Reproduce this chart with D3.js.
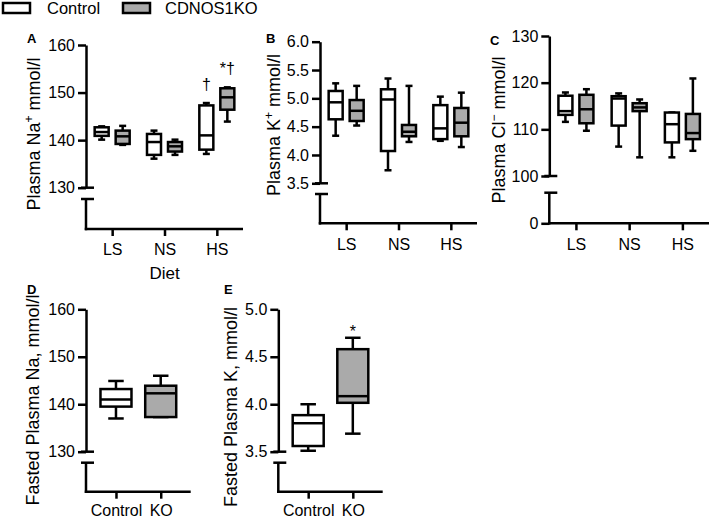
<!DOCTYPE html>
<html><head><meta charset="utf-8">
<script src="https://cdn.jsdelivr.net/npm/d3@7"></script>
<style>
body{margin:0;background:#fff;}
text{font-family:"Liberation Sans",Arial,Helvetica,sans-serif;}
</style></head>
<body><svg id="c" width="709" height="519"></svg>
<script>
// ---------- DATA ----------
const seriesNames = ["Control", "CDNOS1KO"];
const dietGroups = ["LS", "NS", "HS"];
const fastedGroups = ["Control", "KO"];

// five-number summaries [min, q1, median, q3, max]
const naControl = [[140.1,140.9,141.7,142.7,142.9],[136.1,136.9,139.6,141.3,142.0],[137.1,138.0,141.0,147.3,147.8]];
const naKO      = [[139.0,139.2,140.8,142.0,143.0],[136.9,137.6,138.7,139.6,140.1],[143.9,146.4,149.0,150.9,151.1]];
const kControl  = [[4.34,4.63,4.93,5.13,5.265],[3.73,4.07,4.98,5.16,5.35],[4.25,4.28,4.47,4.88,5.03]];
const kKO       = [[4.52,4.60,4.78,4.97,5.22],[4.23,4.33,4.41,4.53,5.22],[4.14,4.33,4.57,4.83,5.10]];
const clControl = [[111.6,113.1,113.9,117.2,117.9],[106.3,110.8,116.6,117.1,117.7],[104.0,107.2,111.1,113.6,113.6]];
const clKO      = [[109.7,111.3,114.3,117.4,118.6],[104.0,113.9,114.7,115.6,116.4],[105.4,107.9,109.2,113.3,120.9]];
const fastedNa  = [[137.0,139.5,141.0,143.2,144.9],[137.3,137.3,142.3,143.9,146.0]];
const fastedK   = [[3.51,3.56,3.80,3.885,4.0],[3.69,4.015,4.085,4.58,4.70]];

const naTicks = [130,140,150,160];
const kTicks = [3.5,4.0,4.5,5.0,5.5,6.0];
const clTicks = [100,110,120,130];
const fkTicks = [3.5,4.0,4.5,5.0];

const naMarks = [{group:"HS", series:0, text:"†"}, {group:"HS", series:1, text:"*†"}];
const fkMarks = [{group:"KO", series:0, text:"*"}];

// ---------- DRAW ----------
const svg = d3.select("#c");
const fills = ["#ffffff", "#aaaaaa"];
const LW = 2.5;

function drawPanel(p){
  const g = svg.append("g");
  const y = d3.scaleLinear().domain(p.yDomain).range(p.yRange);
  const x = d3.scalePoint().domain(p.groups).range(p.xRange).padding(p.xPad);
  const offs = p.offsets || [0];

  g.append("g").attr("transform",`translate(${p.xRange[0]},0)`)
    .call(d3.axisLeft(y).tickValues(p.ticks).tickFormat(p.fmt).tickSize(8).tickSizeOuter(0).tickPadding(3));
  const ax = p.xRange[0];
  g.append("line").attr("x1",ax).attr("x2",ax).attr("y1",p.breakY).attr("y2",p.axisY+LW/2);
  g.append("line").attr("x1",ax-5).attr("x2",ax+8).attr("y1",p.yRange[0]).attr("y2",p.yRange[0]);
  g.append("line").attr("x1",ax-5).attr("x2",ax+8).attr("y1",p.breakY).attr("y2",p.breakY);
  if(p.zeroTick){
    const y0 = d3.scaleLinear().domain([0,1]).range([p.axisY, p.breakY]);
    g.append("g").attr("transform",`translate(${ax},0)`)
      .call(d3.axisLeft(y0).tickValues([0]).tickFormat(d3.format("d")).tickSize(8).tickSizeOuter(0).tickPadding(3))
      .select(".domain").remove();
  }
  const xa = g.append("g").attr("transform",`translate(0,${p.axisY})`)
    .call(d3.axisBottom(x).tickSize(7).tickSizeOuter(0).tickPadding(p.xPadText||8));
  xa.select(".domain").attr("d",`M${p.xRange[0]-LW/2},0H${p.xEnd}`);

  g.selectAll(".domain, .tick line, line").attr("stroke","#000").attr("stroke-width",LW);
  g.selectAll(".tick text").attr("font-size",16).attr("fill","#000")
    .attr("font-family",'"Liberation Sans",Arial,sans-serif');

  const bw = p.boxW, cw = p.boxW*0.5;
  p.series.forEach((ser, si)=>{
    ser.forEach((d, gi)=>{
      const cx = x(p.groups[gi]) + offs[si];
      const b = g.append("g");
      b.append("line").attr("x1",cx).attr("x2",cx).attr("y1",y(d[4])).attr("y2",y(d[0]));
      b.append("line").attr("x1",cx-cw/2).attr("x2",cx+cw/2).attr("y1",y(d[4])).attr("y2",y(d[4]));
      b.append("line").attr("x1",cx-cw/2).attr("x2",cx+cw/2).attr("y1",y(d[0])).attr("y2",y(d[0]));
      b.append("rect").attr("x",cx-bw/2).attr("width",bw).attr("y",y(d[3])).attr("height",y(d[1])-y(d[3]))
        .attr("fill", p.fillFn(si, gi));
      b.append("line").attr("x1",cx-bw/2).attr("x2",cx+bw/2).attr("y1",y(d[2])).attr("y2",y(d[2]));
      b.selectAll("line, rect").attr("stroke","#000").attr("stroke-width",LW);
    });
  });

  (p.marks||[]).forEach(m=>{
    const gi = p.groups.indexOf(m.group);
    const si = m.series;
    const cx = x(m.group) + offs[si];
    const top = p.series[si][gi][4];
    g.append("text").attr("x",cx).attr("y",y(top)-p.markGap).attr("text-anchor","middle")
      .attr("font-size",16).text(m.text);
  });

  const yl = g.append("text").attr("transform",`translate(${p.labelX},${p.labelY}) rotate(-90)`)
    .attr("text-anchor","middle").attr("dy","0.35em").attr("font-size",p.labelSize||18);
  p.label.forEach(s=>{
    const t = yl.append("tspan").text(s.t);
    if(s.sup){ t.attr("font-size",12).attr("dy",-7); }
    if(s.after){ t.attr("dy",7); }
  });
  g.append("text").attr("x",p.letter[1]).attr("y",p.letter[2]).attr("font-size",13)
    .attr("font-weight","bold").text(p.letter[0]);
  if(p.xTitle){
    g.append("text").attr("x",x(p.groups[1])).attr("y",p.axisY+50).attr("text-anchor","middle")
      .attr("font-size",17).text(p.xTitle);
  }
}

const fillSeries = (si,gi)=>fills[si];
const fillFasted = (si,gi)=>fills[gi];

drawPanel({yDomain:[130,160], yRange:[187.7,45], ticks:naTicks, fmt:d3.format("d"),
  breakY:199, axisY:229, xRange:[86,243], xEnd:243, xPad:0.5, groups:dietGroups,
  series:[naControl,naKO], offsets:[-10.5,10.5], boxW:14, fillFn:fillSeries,
  marks:naMarks, markGap:13,
  label:[{t:"Plasma Na"},{t:"+",sup:true},{t:" mmol/l",after:true}], labelX:34, labelY:134,
  letter:["A",27,43], xTitle:"Diet"});

drawPanel({yDomain:[3.5,6.0], yRange:[183.3,41.7], ticks:kTicks, fmt:d3.format(".1f"),
  breakY:194, axisY:223.3, xRange:[320,477], xEnd:477, xPad:0.5, groups:dietGroups,
  series:[kControl,kKO], offsets:[-10.5,10.5], boxW:14, fillFn:fillSeries,
  label:[{t:"Plasma K"},{t:"+",sup:true},{t:" mmol/l",after:true}], labelX:274, labelY:125,
  letter:["B",266,43]});

drawPanel({yDomain:[100,130], yRange:[176,36], ticks:clTicks, fmt:d3.format("d"),
  breakY:192.7, axisY:223.3, xRange:[549.3,709], xEnd:709, xPad:0.5, groups:dietGroups,
  series:[clControl,clKO], offsets:[-10.5,10.5], boxW:14, fillFn:fillSeries, zeroTick:true,
  label:[{t:"Plasma Cl"},{t:"−",sup:true},{t:" mmol/l",after:true}], labelX:499, labelY:130,
  letter:["C",490,45]});

drawPanel({yDomain:[130,160], yRange:[451.7,309.3], ticks:naTicks, fmt:d3.format("d"),
  breakY:462.7, axisY:491.7, xRange:[86,190.7], xEnd:190.7, xPad:0.67, groups:fastedGroups,
  series:[fastedNa], offsets:null, boxW:31, fillFn:fillFasted, xPadText:6,
  label:[{t:"Fasted Plasma Na, mmol/l"}], labelX:33, labelY:400,
  letter:["D",27,294]});

drawPanel({yDomain:[3.5,5.0], yRange:[451.7,309.3], ticks:fkTicks, fmt:d3.format(".1f"),
  breakY:462.7, axisY:491.7, xRange:[278.3,382.7], xEnd:382.7, xPad:0.67, groups:fastedGroups,
  series:[fastedK], offsets:null, boxW:31, fillFn:fillFasted, xPadText:6,
  marks:fkMarks, markGap:1,
  label:[{t:"Fasted Plasma K, mmol/l"}], labelX:231, labelY:407,
  letter:["E",224,294]});

const lg = svg.append("g");
[["Control",2,47],["CDNOS1KO",122,165]].forEach((l,i)=>{
  lg.append("rect").attr("x",l[1]+1).attr("y",3).attr("width",27).attr("height",10)
    .attr("fill",fills[i]).attr("stroke","#000").attr("stroke-width",LW);
  lg.append("text").attr("x",l[2]).attr("y",13.5).attr("font-size",16.5).text(l[0]);
});
</script></body></html>
